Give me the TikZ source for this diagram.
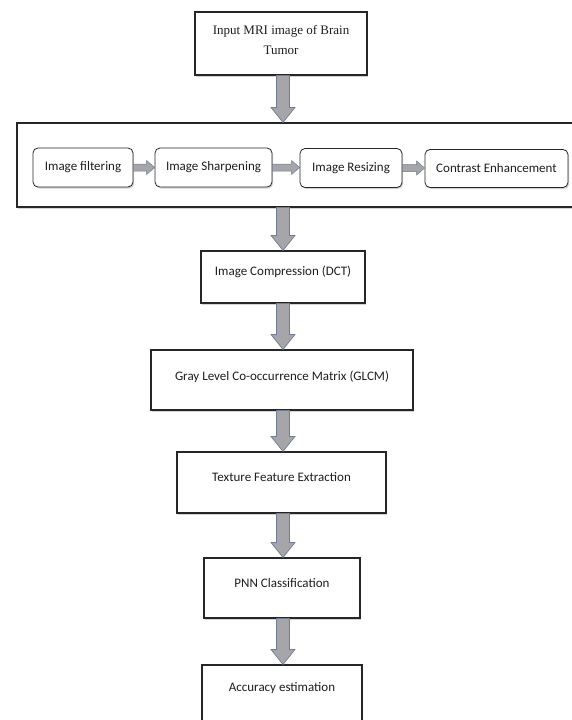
\documentclass[tikz,border=0pt]{standalone}
\usepackage{fontspec}
\setmainfont{Carlito}
\newfontfamily\timesfont{Liberation Serif}
\usetikzlibrary{calc,shadows}
\definecolor{arrowedge}{RGB}{112,124,146}
\definecolor{arrowfill}{RGB}{166,166,170}
\definecolor{txtcol}{RGB}{30,30,30}
\tikzset{
  box/.style={draw=black!85, line width=1.1pt, fill=white, rectangle, inner sep=0pt,
    drop shadow={shadow xshift=1.2pt, shadow yshift=-1.5pt, opacity=0.35}},
  rbox/.style={box, rounded corners=5pt, line width=0.8pt, font=\fontsize{13}{15}\selectfont, text=txtcol},
  txt/.style={font=\fontsize{13}{15}\selectfont, text=txtcol, inner sep=0pt, align=center},
  arr/.style={fill=arrowfill, draw=arrowedge, line width=0.7pt, line join=miter}
}
\newcommand\varr[2]{%
  \draw[arr] let \p1=(#1.south -| axis), \p2=(#2.north -| axis) in
    (\x1-6.5pt,\y1) -- (\x1+6.5pt,\y1) -- (\x1+6.5pt,\y2+15pt) -- (\x1+12pt,\y2+15pt)
    -- (\x1,\y2) -- (\x1-12pt,\y2+15pt) -- (\x1-6.5pt,\y2+15pt) -- cycle;}
\newcommand\harr[2]{%
  \draw[arr, line width=0.5pt] let \p1=(#1.east), \p2=(#2.west) in
    (\x1,\y1+3.5pt) -- (\x2-8pt,\y1+3.5pt) -- (\x2-8pt,\y1+7pt) -- (\x2,\y1)
    -- (\x2-8pt,\y1-7pt) -- (\x2-8pt,\y1-3.5pt) -- (\x1,\y1-3.5pt) -- cycle;}
\begin{document}
\begin{tikzpicture}[x=1pt,y=-1pt]
\useasboundingbox[fill=white] (0,0) rectangle (571,720);
\coordinate (axis) at (283,0);
% boxes
\node[box, minimum width=172pt, minimum height=63pt] (in) at (281,43.5) {};
\node[txt, font=\timesfont\fontsize{13}{20}\selectfont] (intxt) at (281,40) {Input MRI image of Brain\\Tumor};
\node[box, minimum width=558pt, minimum height=84pt] (pre) at (296,165) {};
\node[rbox, minimum width=100pt, minimum height=39pt] (f1) at (83,167.5) {Image filtering};
\node[rbox, minimum width=117pt, minimum height=39pt] (f2) at (213.5,167.5) {Image Sharpening};
\node[rbox, minimum width=102pt, minimum height=39pt] (f3) at (351,168) {Image Resizing};
\node[rbox, minimum width=143pt, minimum height=38pt] (f4) at (496.5,168.5) {Contrast Enhancement};
\node[box, minimum width=164pt, minimum height=52pt] (comp) at (283,277) {};
\node[txt] (comptxt) at (283,272) {Image Compression (DCT)};
\node[box, minimum width=262pt, minimum height=60pt] (glcm) at (282,380) {};
\node[txt] (glcmtxt) at (282,377) {Gray Level Co-occurrence Matrix (GLCM)};
\node[box, minimum width=209pt, minimum height=61pt] (tex) at (281.5,482.5) {};
\node[txt] (textxt) at (281.5,477) {Texture Feature Extraction};
\node[box, minimum width=156pt, minimum height=60pt] (pnn) at (282,588) {};
\node[txt] (pnntxt) at (282,583) {PNN Classification};
\node[box, minimum width=160pt, minimum height=62pt] (acc) at (282,696) {};
\node[txt] (acctxt) at (282,688) {Accuracy estimation};
% arrows
\varr{in}{pre}
\varr{pre}{comp}
\varr{comp}{glcm}
\varr{glcm}{tex}
\varr{tex}{pnn}
\varr{pnn}{acc}
\harr{f1}{f2}
\harr{f2}{f3}
\harr{f3}{f4}
\end{tikzpicture}
\end{document}
